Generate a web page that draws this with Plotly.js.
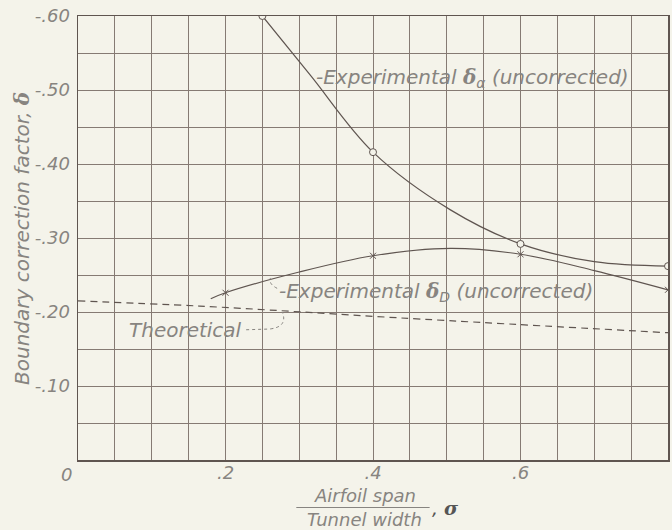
<!DOCTYPE html>
<html>
<head>
<meta charset="utf-8">
<script src="https://cdn.plot.ly/plotly-3.0.1.min.js"></script>
<style>html,body{margin:0;padding:0;background:#f4f3ea;}#chart{width:672px;height:530px;}</style>
</head>
<body>
<div id="chart"></div>
<script>
// Experimental delta_alpha (uncorrected): measured points (open circles)
var alphaX = [0.25, 0.40, 0.60, 0.80];
var alphaY = [-0.600, -0.416, -0.292, -0.262];
// faired curve through delta_alpha
var alphaCurveX = [0.25, 0.315, 0.40, 0.505, 0.60, 0.70, 0.80];
var alphaCurveY = [-0.600, -0.520, -0.416, -0.338, -0.292, -0.268, -0.262];

// Experimental delta_D (uncorrected): measured points (crosses)
var dragX = [0.20, 0.40, 0.60, 0.80];
var dragY = [-0.226, -0.276, -0.278, -0.230];
// faired curve through delta_D
var dragCurveX = [0.18, 0.20, 0.30, 0.40, 0.505, 0.60, 0.70, 0.80];
var dragCurveY = [-0.218, -0.226, -0.254, -0.276, -0.286, -0.278, -0.256, -0.230];

// Theoretical (dashed)
var theoX = [0.0, 0.165, 0.437, 0.80];
var theoY = [-0.215, -0.208, -0.192, -0.172];

// axis ticks / grid
var xGrid = [0, 0.05, 0.10, 0.15, 0.20, 0.25, 0.30, 0.35, 0.40, 0.45, 0.50, 0.55, 0.60, 0.65, 0.70, 0.75, 0.80];
var xLabels = ["", "", "", "", ".2", "", "", "", ".4", "", "", "", ".6", "", "", "", ".8"];
var yGrid = [-0.60, -0.55, -0.50, -0.45, -0.40, -0.35, -0.30, -0.25, -0.20, -0.15, -0.10, -0.05, 0];
var yLabels = ["-.60", "", "-.50", "", "-.40", "", "-.30", "", "-.20", "", "-.10", "", ""];

var ink = '#5f5550';
var gridCol = '#857a73';
var textCol = '#878480';
var fontFam = '"DejaVu Sans", "Liberation Sans", sans-serif';
function f(sz, col) { return {family: fontFam, size: sz, color: col || textCol, style: 'italic', weight: 300}; }

var traces = [
  {x: alphaCurveX, y: alphaCurveY, mode: 'lines', line: {color: ink, width: 1.2, shape: 'spline', smoothing: 1}, hoverinfo: 'skip'},
  {x: alphaX, y: alphaY, mode: 'markers', marker: {symbol: 'circle', size: 7, color: '#f4f3ea', line: {color: ink, width: 1}}},
  {x: dragCurveX, y: dragCurveY, mode: 'lines', line: {color: ink, width: 1.2, shape: 'spline', smoothing: 1}, hoverinfo: 'skip'},
  {x: dragX, y: dragY, mode: 'markers', marker: {symbol: 'x-thin', size: 6, color: ink, line: {color: ink, width: 1}}},
  {x: theoX, y: theoY, mode: 'lines', line: {color: ink, width: 1.2, dash: '7px,5px', shape: 'spline'}}
];

var layout = {
  width: 672, height: 530,
  margin: {l: 78, r: 4, t: 16, b: 70},
  paper_bgcolor: '#f4f3ea', plot_bgcolor: '#f4f3ea',
  showlegend: false,
  font: f(16),
  xaxis: {
    range: [0, 0.8], tickmode: 'array', tickvals: xGrid, ticktext: xLabels,
    showgrid: true, gridcolor: gridCol, gridwidth: 1, zeroline: false,
    showline: true, linecolor: ink, linewidth: 1.5, mirror: true, ticks: '',
    ticklabelstandoff: -4,
    tickfont: f(18)
  },
  yaxis: {
    range: [0, -0.6], tickmode: 'array', tickvals: yGrid, ticktext: yLabels,
    showgrid: true, gridcolor: gridCol, gridwidth: 1, zeroline: false,
    showline: true, linecolor: ink, linewidth: 1.5, mirror: true, ticks: '',
    ticklabelstandoff: 3,
    tickfont: f(18)
  },
  annotations: [
    {xref: 'paper', yref: 'paper', x: -0.007, y: -0.004, xanchor: 'right', yanchor: 'top', text: '0', showarrow: false, font: f(18)},
    {xref: 'paper', yref: 'paper', x: -0.095, y: 0.5, xanchor: 'center', yanchor: 'middle', textangle: -90,
     text: 'Boundary correction factor, <b><span style="font-family:DejaVu Serif">δ</span></b>', showarrow: false, font: f(20)},
    {xref: 'paper', yref: 'paper', x: 0.486, y: -0.079, xanchor: 'center', yanchor: 'middle', text: 'Airfoil span', showarrow: false, font: f(18)},
    {xref: 'paper', yref: 'paper', x: 0.486, y: -0.134, xanchor: 'center', yanchor: 'middle', text: 'Tunnel width', showarrow: false, font: f(18)},
    {xref: 'paper', yref: 'paper', x: 0.596, y: -0.107, xanchor: 'left', yanchor: 'middle', text: ', <b><span style="font-family:DejaVu Serif">σ</span></b>', showarrow: false, font: f(19, '#555')},
    {x: 0.331, y: -0.524, xanchor: 'left', yanchor: 'middle',
     text: '-Experimental <b><span style="font-family:DejaVu Serif">δ</span></b><sub>α</sub> (uncorrected)', showarrow: true,
     ax: -8, ay: 6, axref: 'pixel', arrowhead: 2, arrowsize: 0.8, arrowwidth: 1, arrowcolor: textCol, standoff: 0, startstandoff: 0,
     font: f(20)},
    {x: 0.27, y: -0.227, xanchor: 'left', yanchor: 'middle',
     text: '-Experimental <b><span style="font-family:DejaVu Serif">δ</span></b><sub>D</sub> (uncorrected)', showarrow: false, font: f(20)},
    {x: 0.066, y: -0.176, xanchor: 'left', yanchor: 'middle', text: 'Theoretical', showarrow: false, font: f(20)}
  ],
  shapes: [
    {type: 'line', xref: 'paper', yref: 'paper', x0: 0.370, x1: 0.596, y0: -0.107, y1: -0.107, line: {color: textCol, width: 1}},
    {type: 'path', path: 'M 0.228,-0.176 L 0.26,-0.177 Q 0.285,-0.18 0.277,-0.2', line: {color: textCol, width: 1, dash: 'dot'}},
    {type: 'path', path: 'M 0.27,-0.232 Q 0.258,-0.238 0.261,-0.246', line: {color: textCol, width: 1, dash: 'dot'}}
  ]
};

Plotly.newPlot('chart', traces, layout, {staticPlot: true});
</script>
</body>
</html>
